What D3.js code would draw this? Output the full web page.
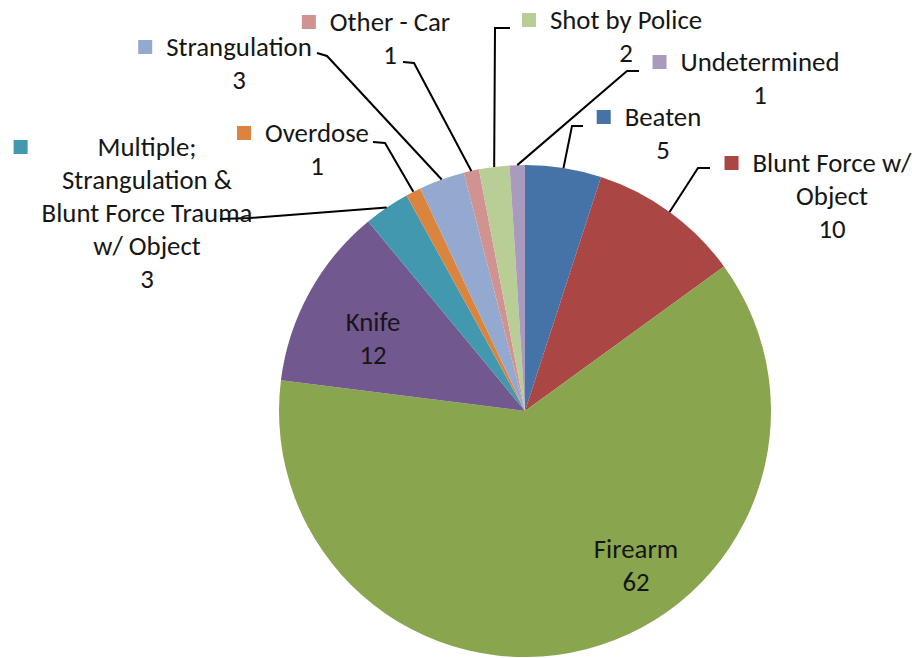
<!DOCTYPE html>
<html><head><meta charset="utf-8">
<script src="https://cdn.jsdelivr.net/npm/d3@7"></script>
<style>html,body{margin:0;padding:0;background:#fff;}svg{display:block;}</style>
</head><body>
<svg id="chart" width="912" height="658"></svg>
<script>
// ---- data ----
const categories = ["Beaten","Blunt Force w/ Object","Firearm","Knife","Multiple; Strangulation & Blunt Force Trauma w/ Object","Overdose","Strangulation","Other - Car","Shot by Police","Undetermined"];
const values = [5,10,62,12,3,1,3,1,2,1];
const labelLines = [["Beaten"],["Blunt Force w/","Object"],["Firearm"],["Knife"],["Multiple;","Strangulation &","Blunt Force Trauma","w/ Object"],["Overdose"],["Strangulation"],["Other - Car"],["Shot by Police"],["Undetermined"]];
const colors = ["#4572A7","#AA4643","#89A54E","#71588F","#4198AF","#DB843D","#93A9CF","#D19392","#B9CD96","#A99BBD"];

// ---- layout (label placement, not data) ----
// tx, ty: centre x and first-line centre y of label block; key: show legend key; stub: leader stub start/end
const layout = [
  {tx:663, ty:117, key:true, stub:[583,126,572,126]},
  {tx:832, ty:163, key:true, stub:[710,168,698,168]},
  {tx:636, ty:549, key:false, stub:null},
  {tx:373, ty:322, key:false, stub:null},
  {tx:147, ty:147, key:true, stub:[220,219,250,218]},
  {tx:317, ty:133, key:true, stub:[373,142,385,143]},
  {tx:239, ty:47, key:true, stub:[317,53,327,56]},
  {tx:390, ty:22, key:true, stub:[403,62,414,63]},
  {tx:626, ty:20, key:true, stub:[510,28,495,28]},
  {tx:760, ty:62, key:true, stub:[639,71,627,71]}
];

const cx = 525, cy = 411, R = 246;
const lineH = 33, fontSize = 26.8, keySize = 14, keyGap = 14;

const svg = d3.select("#chart");
svg.append("rect").attr("width",912).attr("height",658).attr("fill","#fff");

const data = categories.map((c,i)=>({name:c, value:values[i], lines:labelLines[i], color:colors[i], lay:layout[i]}));
const pie = d3.pie().value(d=>d.value).sort(null);
const arcs = pie(data);
const arc = d3.arc().innerRadius(0).outerRadius(R);

const g = svg.append("g").attr("transform",`translate(${cx},${cy})`);
g.selectAll("path").data(arcs).join("path")
  .attr("d",arc).attr("fill",d=>d.data.color);

// leader lines
arcs.forEach(a=>{
  const L = a.data.lay;
  if(!L.stub) return;
  const mid = (a.startAngle+a.endAngle)/2;
  const px = cx + R*Math.sin(mid), py = cy - R*Math.cos(mid);
  svg.append("polyline")
    .attr("points",`${L.stub[0]},${L.stub[1]} ${L.stub[2]},${L.stub[3]} ${px},${py}`)
    .attr("fill","none").attr("stroke","#000").attr("stroke-width",2);
});

// labels
const font = "Carlito, Lato, 'Open Sans', sans-serif";
arcs.forEach(a=>{
  const d = a.data, L = d.lay;
  const lines = d.lines.concat([String(d.value)]);
  const tg = svg.append("g");
  let maxW = 0;
  lines.forEach((t,k)=>{
    const el = tg.append("text")
      .attr("x",L.tx).attr("y",L.ty + k*lineH)
      .attr("dy","0.35em")
      .attr("text-anchor","middle")
      .attr("font-family",font).attr("font-size",fontSize)
      .attr("fill","#161616").text(t);
    if(k < d.lines.length) maxW = Math.max(maxW, el.node().getComputedTextLength());
  });
  if(L.key){
    svg.append("rect")
      .attr("x", L.tx - maxW/2 - keyGap - keySize)
      .attr("y", L.ty - keySize/2)
      .attr("width",keySize).attr("height",keySize)
      .attr("fill",d.color);
  }
});
</script>
</body></html>
